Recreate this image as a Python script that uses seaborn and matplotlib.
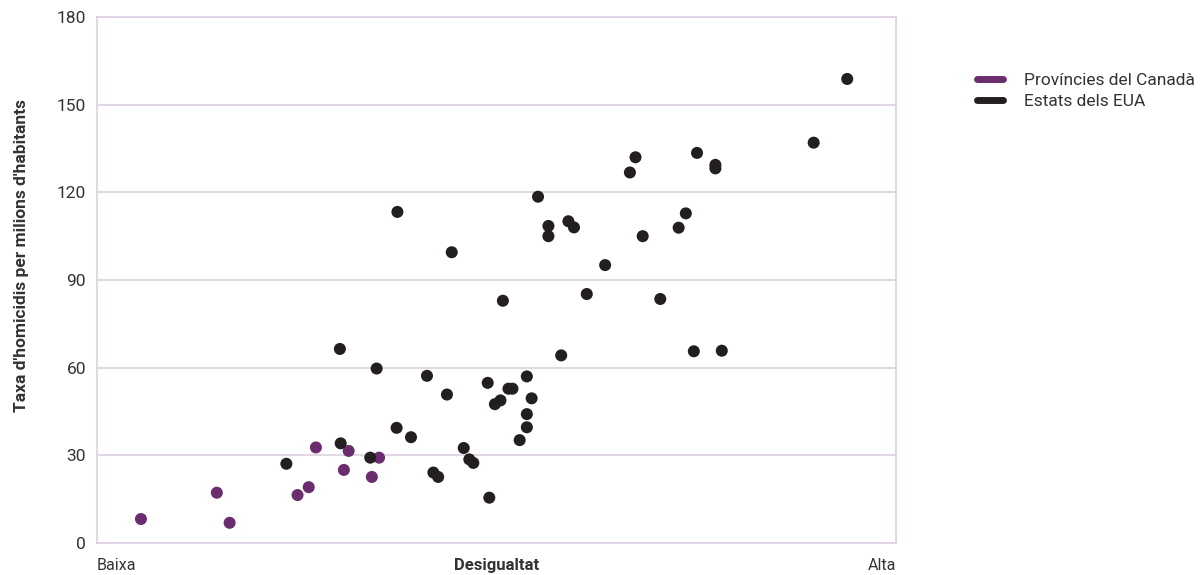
import matplotlib
matplotlib.use("Agg")
import matplotlib.pyplot as plt
from matplotlib.lines import Line2D
import seaborn as sns
import pandas as pd

# Desigualtat (escala relativa 0-100) i taxa d'homicidis
canada_x = [5.5, 15.0, 16.6, 25.1, 26.5, 27.4, 31.5, 30.9, 35.3, 34.4]
canada_y = [8.2, 17.2, 6.9, 16.4, 19.1, 32.7, 31.5, 25.0, 29.2, 22.6]

usa_x = [23.7, 30.5, 30.4, 34.2, 35.0, 37.5, 37.6, 39.3, 41.3, 42.1,
         42.7, 43.8, 44.4, 45.9, 46.6, 47.1, 48.9, 49.1, 49.8, 50.5,
         50.8, 51.5, 52.0, 52.9, 53.8, 53.8, 53.8, 54.4, 55.2, 56.5,
         56.5, 58.1, 59.0, 59.7, 61.3, 63.6, 66.7, 67.4, 68.3, 70.5,
         72.8, 73.7, 74.7, 75.1, 77.4, 77.4, 78.2, 89.7, 93.9]
usa_y = [27.1, 34.1, 66.4, 29.2, 59.7, 39.4, 113.3, 36.2, 57.2, 24.1,
         22.6, 50.8, 99.5, 32.5, 28.6, 27.4, 54.8, 15.5, 47.5, 48.8,
         82.9, 52.8, 52.8, 35.2, 57.0, 44.1, 39.6, 49.5, 118.5, 108.5,
         105.0, 64.2, 110.1, 108.0, 85.2, 95.1, 126.8, 132.0, 105.0, 83.5,
         107.9, 112.8, 65.6, 133.5, 129.4, 128.2, 65.8, 137.0, 158.8]

groups = ["Províncies del Canadà", "Estats dels EUA"]
colors = ["#6b2d6e", "#231f20"]

df = pd.DataFrame({
    "x": canada_x + usa_x,
    "y": canada_y + usa_y,
    "grup": [groups[0]] * len(canada_x) + [groups[1]] * len(usa_x),
})

sns.set_style("white")
plt.rcParams["font.family"] = ["Roboto", "DejaVu Sans"]

grid_c = "#dccfe0"
text_c = "#333333"

fig = plt.figure(figsize=(12.02, 5.75), dpi=100)
ax = fig.add_axes([0.0807, 0.0557, 0.6647, 0.9147])

sns.scatterplot(data=df, x="x", y="y", hue="grup", hue_order=groups,
                palette=colors, s=75, linewidth=0, legend=False, ax=ax, zorder=3)

ax.set_xlim(0, 100)
ax.set_ylim(0, 180)
ax.set_yticks(range(0, 181, 30))
ax.set_xticks([])
ax.yaxis.grid(True, color=grid_c, linewidth=1.2)
ax.set_axisbelow(True)
for sp in ax.spines.values():
    sp.set_color(grid_c)
    sp.set_linewidth(1.2)
ax.tick_params(axis="y", length=0, labelsize=12.5, labelcolor=text_c, pad=8)

ax.set_xlabel("")
ax.set_ylabel("")
fig.text(22 / 1202, 1 - 256 / 575, "Taxa d'homicidis per milions d'habitants",
         rotation=90, ha="center", va="center", fontsize=12.5,
         fontweight="semibold", color=text_c)

ax.text(0, -0.042, "Baixa", transform=ax.transAxes, ha="left", va="center",
        fontsize=11.5, color=text_c)
ax.text(0.5, -0.042, "Desigualtat", transform=ax.transAxes, ha="center", va="center",
        fontsize=12, color=text_c, fontweight="semibold")
ax.text(1, -0.042, "Alta", transform=ax.transAxes, ha="right", va="center",
        fontsize=11.5, color=text_c)

handles = [Line2D([0], [0], color=c, linewidth=5, solid_capstyle="round") for c in colors]
fig.legend(handles, groups, loc="upper left", bbox_to_anchor=(0.8, 0.9),
           frameon=False, fontsize=12.5, handlelength=1.5, handletextpad=1.2,
           labelspacing=0.3, labelcolor=text_c)

fig.savefig("out.png", dpi=100)
